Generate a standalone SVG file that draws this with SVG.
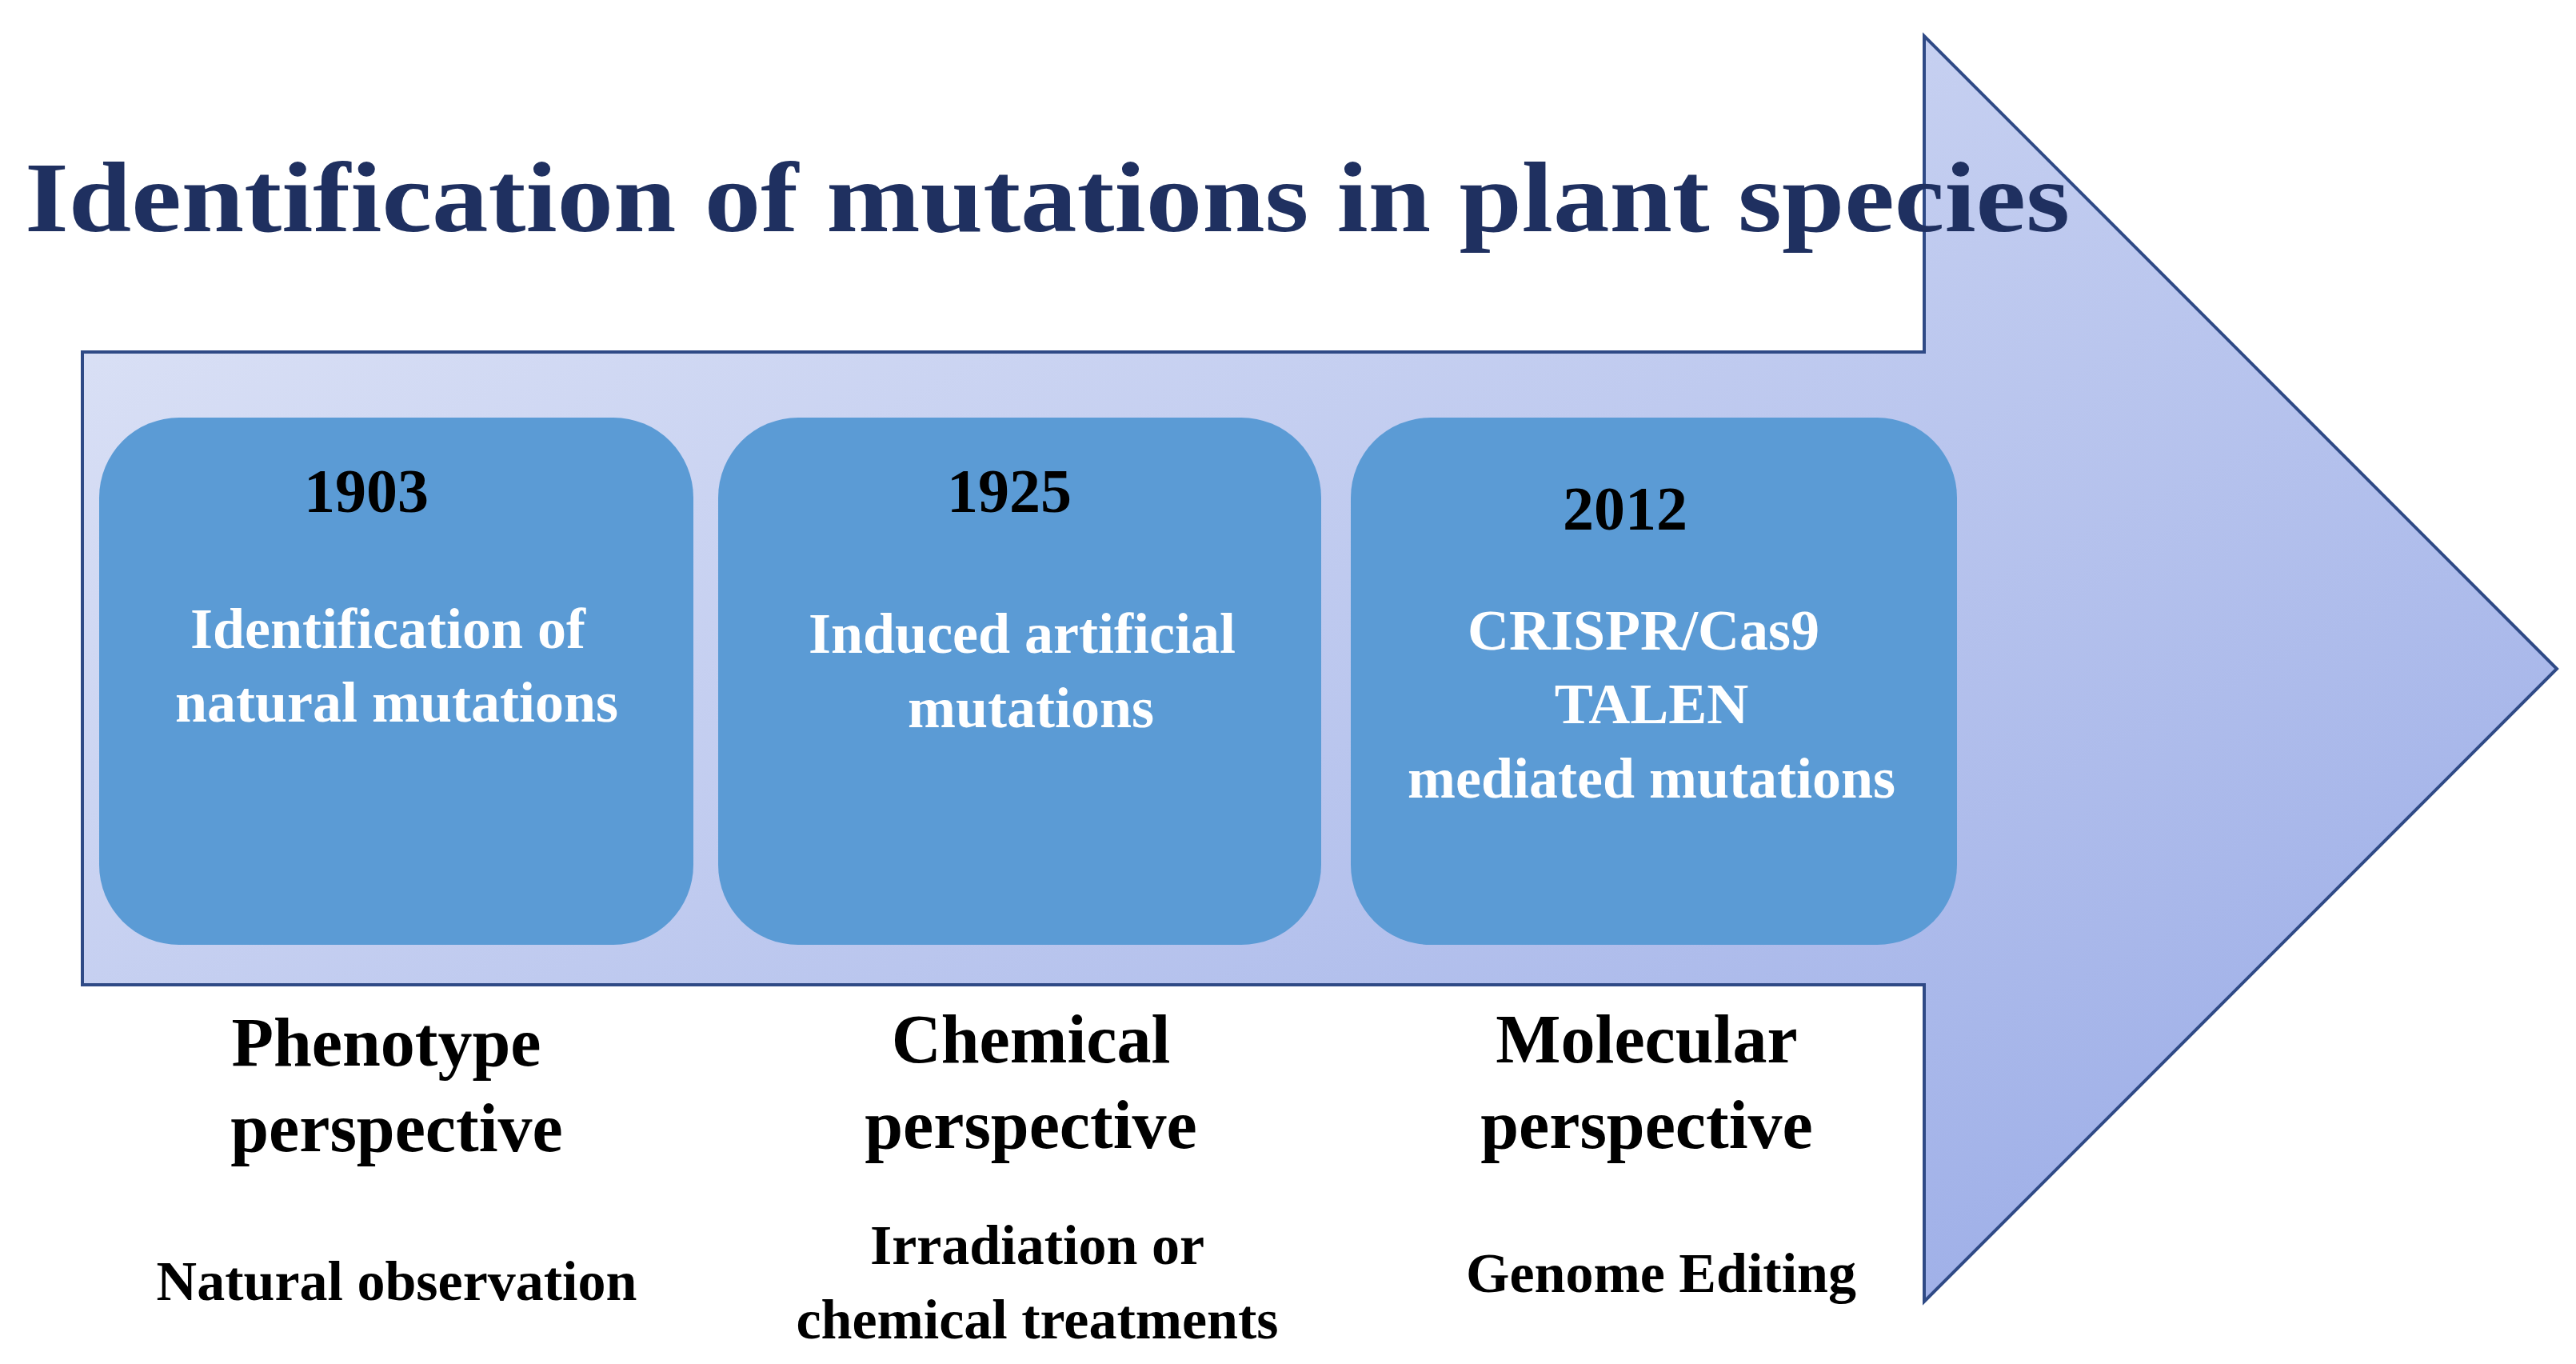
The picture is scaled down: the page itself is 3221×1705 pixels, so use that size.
<svg xmlns="http://www.w3.org/2000/svg" width="3221" height="1705" viewBox="0 0 3221 1705">
<defs>
<linearGradient id="g" x1="0" y1="0" x2="1" y2="1">
<stop offset="0" stop-color="#e2e7f7"/>
<stop offset="1" stop-color="#97a9e6"/>
</linearGradient>
<style>
.t{font-family:"Liberation Serif","DejaVu Serif",serif;font-weight:bold;text-anchor:middle}
.yr{font-size:78px;fill:#000}
.w{font-size:72px;fill:#fff}
.p{font-size:86px;fill:#000}
.s{font-size:70px;fill:#000}
.box{fill:#5b9bd5}
</style>
</defs>
<rect width="3221" height="1705" fill="#fff"/>
<g id="arrow">
<path d="M103,440 H2406 V45 L3197,836 L2406,1627 V1231 H103 Z" fill="url(#g)" stroke="#2f4a86" stroke-width="4"/>
</g>
<text class="t" x="31" y="289" style="text-anchor:start;font-size:124px;fill:#1f3060" textLength="2557" lengthAdjust="spacingAndGlyphs">Identification of mutations in plant species</text>
<g id="box1">
<rect class="box" x="124" y="522" width="743" height="659" rx="100"/>
<text class="t yr" x="458" y="640">1903</text>
<text class="t w" x="485" y="810">Identification of</text>
<text class="t w" x="496" y="902">natural mutations</text>
</g>
<g id="box2">
<rect class="box" x="898" y="522" width="754" height="659" rx="100"/>
<text class="t yr" x="1262" y="640">1925</text>
<text class="t w" x="1278" y="816">Induced artificial</text>
<text class="t w" x="1289" y="909">mutations</text>
</g>
<g id="box3">
<rect class="box" x="1689" y="522" width="758" height="659" rx="100"/>
<text class="t yr" x="2032" y="662">2012</text>
<text class="t w" x="2055" y="812">CRISPR/Cas9</text>
<text class="t w" x="2065" y="904">TALEN</text>
<text class="t w" x="2065" y="997">mediated mutations</text>
</g>
<g id="col1">
<text class="t p" x="483" y="1332">Phenotype</text>
<text class="t p" x="496" y="1439">perspective</text>
<text class="t s" x="496" y="1625">Natural observation</text>
</g>
<g id="col2">
<text class="t p" x="1289" y="1328">Chemical</text>
<text class="t p" x="1289" y="1435">perspective</text>
<text class="t s" x="1297" y="1580">Irradiation or</text>
<text class="t s" x="1297" y="1673">chemical treatments</text>
</g>
<g id="col3">
<text class="t p" x="2059" y="1328">Molecular</text>
<text class="t p" x="2059" y="1435">perspective</text>
<text class="t s" x="2077" y="1615">Genome Editing</text>
</g>
<g id="connectors"/>
</svg>
